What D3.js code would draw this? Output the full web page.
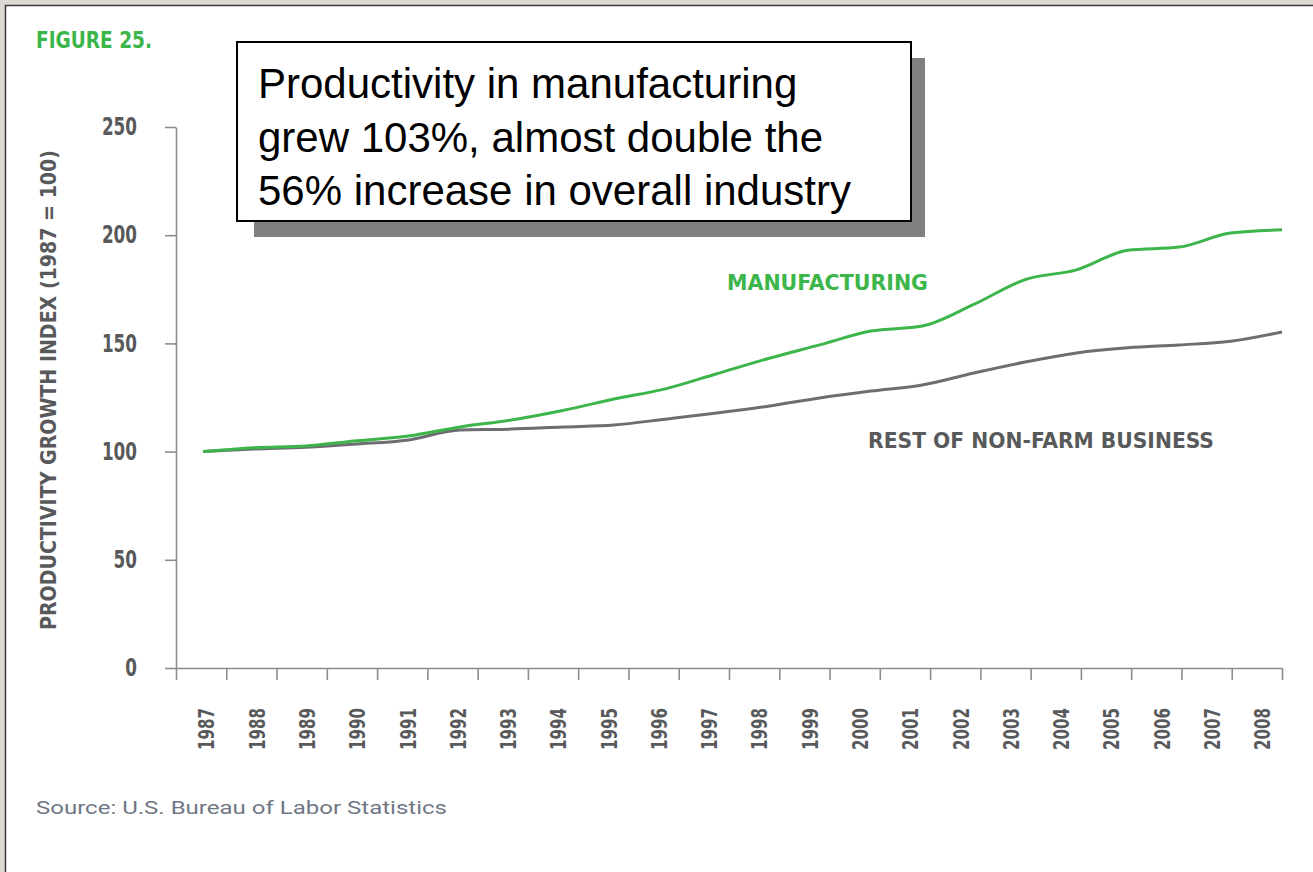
<!DOCTYPE html>
<html>
<head>
<meta charset="utf-8">
<script src="https://cdn.jsdelivr.net/npm/d3@7"></script>
<style>
  body { margin: 0; background: #dcd8d2; }
  svg { display: block; }
  .narrow { font-family: "Liberation Sans Narrow", "DejaVu Sans Condensed", "Roboto Condensed", sans-serif; font-weight: bold; }
</style>
</head>
<body>
<div id="chart"></div>
<script>
// data
const years = d3.range(1987, 2009);
const manufacturing = [100, 101.8, 102.6, 105, 107.2, 111.4, 114.6, 119, 124.3, 129, 136, 143, 149.3, 155.7, 158, 168, 179.5, 184, 193, 194.5, 201, 202.5];
const restNonFarm = [100, 101.2, 102, 103.5, 105.4, 110, 110.4, 111.4, 112.3, 115, 117.8, 121, 124.8, 128, 130.8, 136.3, 141.4, 145.6, 148, 149.3, 151, 155.3];
const yTicks = [0, 50, 100, 150, 200, 250];
const noteLines = ["Productivity in manufacturing", "grew 103%, almost double the", "56% increase in overall industry"];

const W = 1313, H = 872;
const green = "#3cb54a", grey = "#58595b", axisGrey = "#8d8d8d";

const svg = d3.select("#chart")
    .append("svg")
    .attr("width", W)
    .attr("height", H);

// page frame
svg.append("rect").attr("x", 5).attr("y", 5).attr("width", W).attr("height", H).attr("fill", "#fff");
svg.append("path").attr("d", `M5.5,${H} V5.5 H${W}`).attr("fill", "none").attr("stroke", "#3a3a3a").attr("stroke-width", 1.5);

// scales
const y = d3.scaleLinear().domain([0, 250]).range([668, 127]);
const xEdge = d3.scaleLinear().domain([1987, 2009]).range([176, 1282]);
const xBand = d3.scaleBand().domain(years).range([176, 1282]);
const xLine = d3.scaleLinear().domain([1987, 2008]).range([203, 1282]);

// y axis
const yAxis = svg.append("g")
    .attr("transform", "translate(176,0)")
    .call(d3.axisLeft(y).tickValues(yTicks).tickSize(11).tickSizeOuter(0).tickFormat(d3.format("d")));
yAxis.selectAll("path, line").attr("stroke", axisGrey).attr("stroke-width", 1.6);
yAxis.selectAll("text")
    .attr("class", "narrow")
    .attr("x", -39)
    .attr("fill", grey)
    .attr("textLength", d => String(d).length * 11.7)
    .attr("lengthAdjust", "spacingAndGlyphs")
    .style("font-size", "24px");

// x axis: ticks on year boundaries, labels in the middle
const xAxis = svg.append("g")
    .attr("transform", "translate(0,668)")
    .call(d3.axisBottom(xEdge).tickValues(d3.range(1987, 2010)).tickSize(12).tickSizeOuter(0).tickFormat(""));
xAxis.selectAll("path, line").attr("stroke", axisGrey).attr("stroke-width", 1.6);

svg.append("g").selectAll("text")
    .data(years)
    .join("text")
    .attr("class", "narrow")
    .attr("transform", d => `translate(${xBand(d) + xBand.bandwidth() / 2 + 6},708) rotate(-90)`)
    .attr("text-anchor", "end")
    .attr("dy", "0.35em")
    .attr("fill", grey)
    .attr("textLength", 42)
    .attr("lengthAdjust", "spacingAndGlyphs")
    .style("font-size", "21px")
    .text(d => d);

// y axis title
svg.append("text")
    .attr("class", "narrow")
    .attr("transform", "translate(48,390) rotate(-90)")
    .attr("text-anchor", "middle")
    .attr("dy", "0.35em")
    .attr("fill", grey)
    .attr("textLength", 480)
    .attr("lengthAdjust", "spacingAndGlyphs")
    .style("font-size", "22px")
    .text("PRODUCTIVITY GROWTH INDEX (1987 = 100)");

// lines
const line = d3.line()
    .x((d, i) => xLine(years[i]))
    .y(d => y(d))
    .curve(d3.curveMonotoneX);

svg.append("path")
    .datum(restNonFarm)
    .attr("fill", "none")
    .attr("stroke", "#6d6e71")
    .attr("stroke-width", 3)
    .attr("d", line);

svg.append("path")
    .datum(manufacturing)
    .attr("fill", "none")
    .attr("stroke", green)
    .attr("stroke-width", 3)
    .attr("d", line);

// series labels
svg.append("text")
    .attr("class", "narrow")
    .attr("x", 727).attr("y", 290)
    .attr("fill", green)
    .attr("textLength", 201)
    .attr("lengthAdjust", "spacingAndGlyphs")
    .style("font-size", "21px")
    .text("MANUFACTURING");

svg.append("text")
    .attr("class", "narrow")
    .attr("x", 868).attr("y", 448)
    .attr("fill", grey)
    .attr("textLength", 346)
    .attr("lengthAdjust", "spacingAndGlyphs")
    .style("font-size", "21px")
    .text("REST OF NON-FARM BUSINESS");

// figure number
svg.append("text")
    .attr("class", "narrow")
    .attr("x", 36).attr("y", 48)
    .attr("fill", green)
    .attr("textLength", 116)
    .attr("lengthAdjust", "spacingAndGlyphs")
    .style("font-size", "23px")
    .text("FIGURE 25.");

// source
svg.append("text")
    .attr("x", 36).attr("y", 814)
    .attr("fill", "#6f7784")
    .attr("textLength", 411)
    .attr("lengthAdjust", "spacingAndGlyphs")
    .style("font-family", "Roboto, 'Liberation Sans', sans-serif")
    .style("font-size", "18px")
    .text("Source: U.S. Bureau of Labor Statistics");

// annotation box with drop shadow
const note = svg.append("g");
note.append("rect")
    .attr("x", 254).attr("y", 58).attr("width", 671).attr("height", 179)
    .attr("fill", "#808080");
note.append("rect")
    .attr("x", 237).attr("y", 42).attr("width", 674).attr("height", 179)
    .attr("fill", "#fff")
    .attr("stroke", "#000")
    .attr("stroke-width", 2);
note.selectAll("text.note")
    .data(noteLines)
    .join("text")
    .attr("class", "note")
    .attr("x", 258)
    .attr("y", (d, i) => 98 + i * 53.5)
    .attr("fill", "#000")
    .style("font-family", "'Liberation Sans', Arial, sans-serif")
    .style("font-size", "42px")
    .text(d => d);
</script>
</body>
</html>
